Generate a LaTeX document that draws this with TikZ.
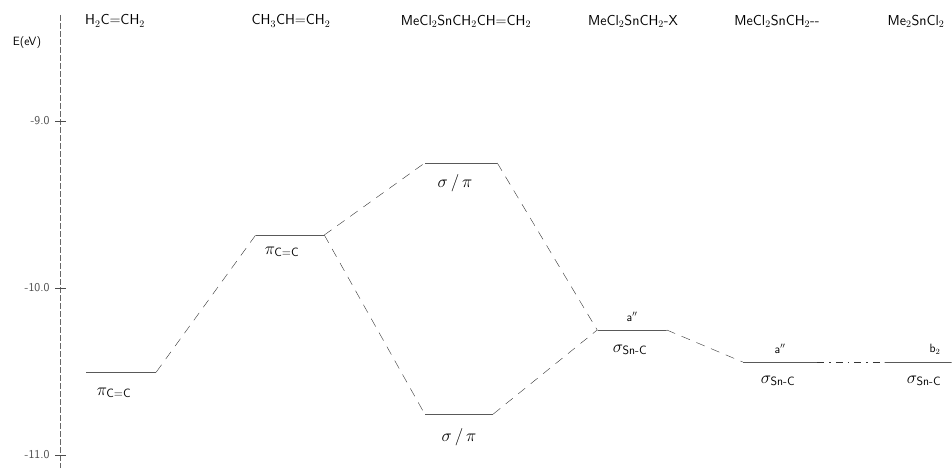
\documentclass[tikz,border=0pt]{standalone}
\usepackage{amsmath}
\usepackage{tikz}
\usetikzlibrary{positioning}
\newcommand{\sigsnc}{\ensuremath{\sigma_{\textsf{Sn-C}}}}
\newcommand{\picc}{\ensuremath{\pi_{\textsf{C=C}}}}
\newcommand{\sigpi}{\ensuremath{\sigma\,/\,\pi}}

\begin{document}
\begin{tikzpicture}[x=1pt,y=-1pt,
  lvl/.style={draw,semithick,inner sep=0pt,minimum height=0pt,minimum width=#1},
  link/.style={dash pattern=on 9pt off 7pt,black!80},
  weaklink/.style={dash pattern=on 7pt off 5pt on 1.5pt off 5pt,black!80},
  head/.style={font=\sffamily\Large},
  orb/.style={font=\LARGE},
  sym/.style={font=\sffamily\large},
  ticklab/.style={font=\sffamily\large,anchor=east,black!70}]
\useasboundingbox (0,0) rectangle (952,468);

% energy axis
\coordinate (axtop) at (60,15);
\coordinate (axbot) at (60,468);
\draw[black!60,dash pattern=on 6pt off 2pt] (axtop) -- (axbot);
\node[font=\sffamily\large] (elab) at (27,43) {E(eV)};
\foreach \v/\y in {-9.0/121,-10.0/288,-11.0/455}{
  \draw[black!70] (55,\y) -- (66,\y);
  \node[ticklab] at (53,\y) {\v};
}

% molecules
\node[head] (h1) at (115,21) {H$_2$C=CH$_2$};
\node[head] (h2) at (291,21) {CH$_3$CH=CH$_2$};
\node[head] (h3) at (466,21) {MeCl$_2$SnCH$_2$CH=CH$_2$};
\node[head] (h4) at (633,21) {MeCl$_2$SnCH$_2$-X};
\node[head] (h5) at (777,21) {MeCl$_2$SnCH$_2$-{}-};
\node[head] (h6) at (916,21) {Me$_2$SnCl$_2$};

% levels
\node[lvl=70pt] (eth) at (121,372) {};
\node[lvl=68pt] (pro) at (290,235) {};
\node[lvl=72pt] (sptop) at (461,163) {};
\node[lvl=68pt] (spbot) at (459,414) {};
\node[lvl=69pt] (snx) at (632,330) {};
\node[lvl=74pt] (snr) at (780,362) {};
\node[lvl=67pt] (sncl) at (918,362) {};

% orbital labels
\node[orb] (ethlab) at (114,393) {\picc};
\node[orb] (prolab) at (282,252) {\picc};
\node[orb] (toplab) at (455,183) {\sigpi};
\node[orb] (botlab) at (459,437) {\sigpi};
\node[sym] (snxsym) at (632,317) {a$''$};
\node[orb] (snxlab) at (630,350) {\sigsnc};
\node[sym] (snrsym) at (780,349) {a$''$};
\node[orb] (snrlab) at (778,381) {\sigsnc};
\node[sym] (snclsym) at (935,349) {b$_2$};
\node[orb] (sncllab) at (924,381) {\sigsnc};

% correlation lines
\draw[link] (eth.east) -- (pro.west);
\draw[link] (pro.east) -- (sptop.west);
\draw[link] (pro.east) -- (spbot.west);
\draw[link] (sptop.east) -- (snx.west);
\draw[link] (spbot.east) -- (snx.west);
\draw[link] (snx.east) -- (snr.west);
\draw[weaklink] (snr.east) -- (sncl.west);
\end{tikzpicture}
\end{document}
